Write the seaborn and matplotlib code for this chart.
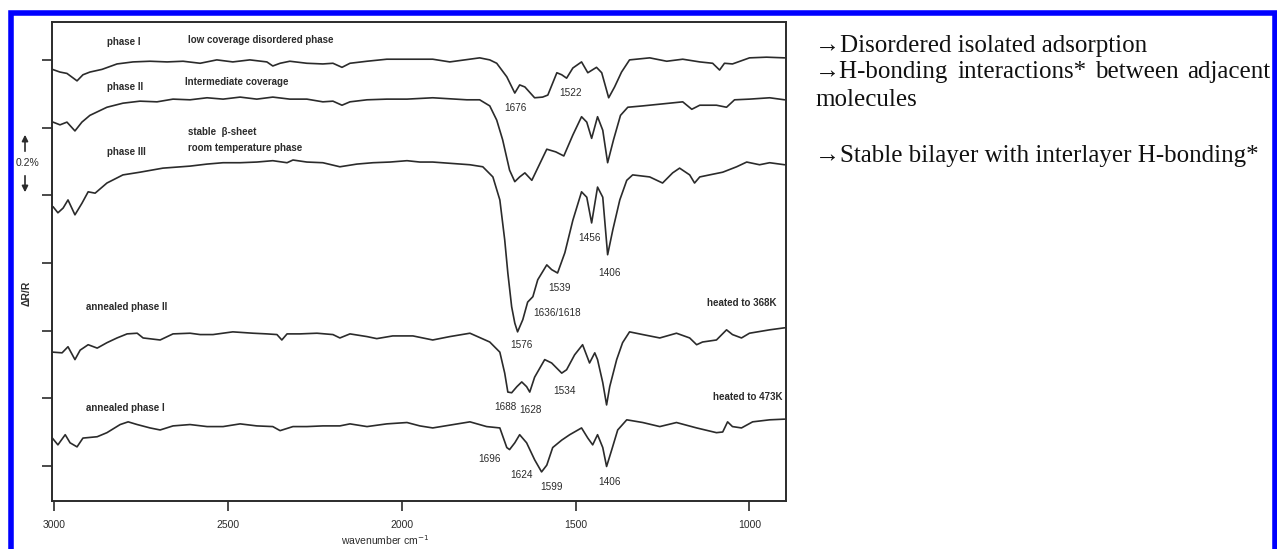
import matplotlib
matplotlib.use("Agg")
import matplotlib.pyplot as plt
import matplotlib.patches as mpatches
import seaborn as sns
import pandas as pd

# spectra: wavenumber (cm-1) and offset dR/R (tick spacing = 1)
wn_phase1 = [3005, 2983, 2963, 2934, 2917, 2897, 2862, 2819, 2773, 2724, 2675, 2629, 2580, 2532,
             2486, 2437, 2388, 2371, 2350, 2322, 2273, 2227, 2198, 2172, 2149, 2100, 2043, 1985,
             1911, 1862, 1776, 1747, 1727, 1698, 1675, 1661, 1646, 1618, 1595, 1580, 1554, 1540,
             1526, 1508, 1483, 1465, 1440, 1425, 1405, 1388, 1368, 1345, 1287, 1238, 1192, 1143,
             1106, 1086, 1072, 1049, 1000, 951, 899]
r_phase1 = [5.86, 5.82, 5.80, 5.69, 5.78, 5.82, 5.86, 5.94, 5.97, 5.98, 5.97, 5.98, 5.95, 6.00,
            5.97, 6.00, 5.97, 5.91, 5.95, 5.98, 5.95, 5.94, 5.95, 5.89, 5.95, 5.98, 6.01, 6.01,
            6.01, 5.97, 6.03, 6.00, 5.95, 5.75, 5.51, 5.63, 5.60, 5.44, 5.45, 5.48, 5.81, 5.78,
            5.73, 5.88, 5.97, 5.81, 5.89, 5.81, 5.44, 5.60, 5.82, 6.00, 6.03, 5.98, 6.01, 5.97,
            5.95, 5.85, 5.95, 5.94, 6.03, 6.04, 6.03]

wn_phase2 = [3003, 2983, 2963, 2940, 2920, 2897, 2848, 2802, 2753, 2704, 2658, 2609, 2560, 2514,
             2465, 2417, 2371, 2322, 2273, 2227, 2198, 2172, 2149, 2100, 2043, 1985, 1911, 1813,
             1776, 1747, 1727, 1710, 1690, 1675, 1661, 1646, 1626, 1612, 1583, 1557, 1534, 1508,
             1483, 1468, 1454, 1437, 1422, 1408, 1391, 1371, 1350, 1307, 1230, 1192, 1166, 1143,
             1095, 1066, 1043, 1000, 942, 899]
r_phase2 = [5.08, 5.04, 5.08, 4.95, 5.08, 5.18, 5.30, 5.36, 5.39, 5.38, 5.42, 5.41, 5.44, 5.42,
            5.45, 5.42, 5.45, 5.42, 5.42, 5.38, 5.39, 5.33, 5.38, 5.41, 5.42, 5.42, 5.44, 5.41,
            5.41, 5.32, 5.11, 4.82, 4.37, 4.20, 4.27, 4.33, 4.22, 4.37, 4.68, 4.64, 4.58, 4.89,
            5.16, 5.08, 4.84, 5.16, 4.96, 4.48, 4.82, 5.18, 5.30, 5.32, 5.36, 5.38, 5.27, 5.33,
            5.33, 5.30, 5.41, 5.42, 5.44, 5.41]

wn_phase3 = [3003, 2989, 2974, 2960, 2940, 2920, 2902, 2882, 2848, 2802, 2753, 2687, 2609, 2560,
             2514, 2465, 2417, 2371, 2330, 2313, 2273, 2227, 2178, 2129, 2083, 2034, 1985, 1948,
             1911, 1804, 1767, 1738, 1718, 1704, 1695, 1684, 1675, 1667, 1652, 1638, 1623, 1609,
             1583, 1569, 1552, 1531, 1508, 1483, 1468, 1454, 1437, 1422, 1408, 1393, 1373, 1353,
             1336, 1287, 1250, 1221, 1201, 1172, 1158, 1143, 1115, 1077, 1037, 1008, 971, 942, 899]
r_phase3 = [3.83, 3.74, 3.81, 3.93, 3.71, 3.88, 4.05, 4.03, 4.18, 4.30, 4.34, 4.40, 4.43, 4.46,
            4.48, 4.48, 4.49, 4.51, 4.48, 4.52, 4.49, 4.48, 4.42, 4.46, 4.48, 4.49, 4.51, 4.49,
            4.49, 4.45, 4.42, 4.27, 3.93, 3.34, 2.85, 2.35, 2.11, 1.98, 2.16, 2.42, 2.50, 2.75,
            2.97, 2.90, 2.85, 3.15, 3.63, 4.05, 3.97, 3.59, 4.12, 3.97, 3.12, 3.49, 3.93, 4.22,
            4.30, 4.27, 4.18, 4.33, 4.40, 4.30, 4.18, 4.27, 4.30, 4.34, 4.42, 4.49, 4.45, 4.48, 4.45]

wn_ann2 = [3003, 2977, 2960, 2940, 2925, 2902, 2876, 2848, 2819, 2790, 2761, 2744, 2695, 2658,
           2609, 2580, 2543, 2486, 2428, 2388, 2359, 2345, 2330, 2293, 2244, 2198, 2178, 2149,
           2100, 2072, 2026, 1968, 1911, 1862, 1804, 1747, 1718, 1704, 1695, 1684, 1669, 1655,
           1641, 1632, 1618, 1589, 1569, 1540, 1526, 1503, 1480, 1460, 1445, 1437, 1422, 1411,
           1402, 1382, 1365, 1345, 1307, 1258, 1210, 1172, 1152, 1135, 1095, 1066, 1049, 1023,
           1000, 942, 899]
r_ann2 = [1.68, 1.67, 1.76, 1.57, 1.71, 1.79, 1.74, 1.82, 1.89, 1.95, 1.96, 1.89, 1.86, 1.95,
          1.96, 1.94, 1.94, 1.98, 1.96, 1.95, 1.94, 1.86, 1.95, 1.95, 1.96, 1.94, 1.89, 1.95,
          1.91, 1.88, 1.92, 1.92, 1.86, 1.91, 1.96, 1.83, 1.68, 1.37, 1.09, 1.08, 1.17, 1.24,
          1.17, 1.09, 1.31, 1.57, 1.52, 1.37, 1.42, 1.64, 1.79, 1.52, 1.67, 1.57, 1.23, 0.90,
          1.17, 1.57, 1.82, 1.98, 1.94, 1.89, 1.96, 1.89, 1.79, 1.83, 1.86, 2.01, 1.94, 1.89,
          1.96, 2.01, 2.04]

wn_ann1 = [3005, 2989, 2968, 2954, 2934, 2917, 2876, 2848, 2810, 2787, 2761, 2724, 2695, 2658,
           2609, 2560, 2514, 2465, 2417, 2371, 2350, 2313, 2273, 2227, 2178, 2149, 2100, 2043,
           1985, 1948, 1911, 1804, 1756, 1718, 1698, 1690, 1675, 1661, 1641, 1618, 1598, 1583,
           1566, 1540, 1517, 1483, 1465, 1451, 1437, 1422, 1411, 1396, 1379, 1353, 1307, 1258,
           1210, 1152, 1095, 1077, 1063, 1049, 1023, 991, 942, 899]
r_ann1 = [0.41, 0.31, 0.46, 0.34, 0.28, 0.41, 0.43, 0.49, 0.61, 0.65, 0.61, 0.56, 0.53, 0.59,
          0.61, 0.58, 0.58, 0.62, 0.59, 0.58, 0.52, 0.58, 0.58, 0.59, 0.59, 0.62, 0.58, 0.62,
          0.64, 0.59, 0.56, 0.65, 0.58, 0.56, 0.27, 0.24, 0.34, 0.46, 0.34, 0.09, -0.09, 0.01,
          0.27, 0.38, 0.46, 0.56, 0.41, 0.31, 0.46, 0.27, -0.01, 0.24, 0.53, 0.68, 0.64, 0.58,
          0.64, 0.56, 0.49, 0.50, 0.65, 0.58, 0.56, 0.65, 0.68, 0.69]

# peak labels: text, wavenumber, offset
peak_text = ["1676", "1522", "1456", "1406", "1539", "1636/1618", "1576",
             "1688", "1628", "1534", "1696", "1624", "1599", "1406"]
peak_wn = [1672, 1514, 1460, 1402, 1546, 1552, 1655, 1701, 1629, 1531, 1747, 1655, 1569, 1402]
peak_r = [5.29, 5.51, 3.37, 2.85, 2.63, 2.26, 1.79, 0.87, 0.83, 1.11, 0.10, -0.13, -0.31, -0.24]

# trace captions: text, wavenumber of left edge, offset
caption_text = ["phase I", "low coverage disordered phase", "phase II", "Intermediate coverage",
                "stable  \u03b2-sheet", "room temperature phase", "phase III",
                "annealed phase II", "heated to 368K", "annealed phase I", "heated to 473K"]
caption_wn = [2848, 2615, 2848, 2624, 2615, 2615, 2848, 2908, 1123, 2908, 1106]
caption_r = [6.26, 6.29, 5.60, 5.67, 4.93, 4.70, 4.64, 2.35, 2.41, 0.86, 1.02]

xticks = [3000, 2500, 2000, 1500, 1000]

notes = ["\u2192Disordered isolated adsorption",
         "molecules",
         "\u2192Stable bilayer with interlayer H-bonding*"]
note_words = ["\u2192H-bonding", "interactions*", "between", "adjacent"]

sns.set_theme(style="white")
sans = ["Liberation Sans", "DejaVu Sans"]
serif = ["Liberation Serif", "DejaVu Serif"]
ink = "#2b2b2b"

W, H = 1277, 549
fig = plt.figure(figsize=(W / 100, H / 100), dpi=100)
ax = fig.add_axes([52 / W, 1 - 501 / H, (786 - 52) / W, (501 - 22) / H])

traces = [(wn_phase1, r_phase1), (wn_phase2, r_phase2), (wn_phase3, r_phase3),
          (wn_ann2, r_ann2), (wn_ann1, r_ann1)]
for wn, r in traces:
    df = pd.DataFrame({"wn": wn, "r": r})
    sns.lineplot(data=df, x="wn", y="r", ax=ax, color=ink, linewidth=1.2, sort=False)

ax.set_xlim(3006, 895)
ax.set_ylim(-0.52, 6.56)
ax.set_xticks(xticks)
ax.set_xticklabels([str(t) for t in xticks], family=sans, fontsize=7.5, color=ink)
ax.set_yticks(range(7))
ax.set_yticklabels([])
ax.tick_params(axis="both", direction="out", length=7, width=1.2, color=ink,
               bottom=True, left=True, pad=7)
ax.set_xlabel("")
ax.set_ylabel("")
for sp in ax.spines.values():
    sp.set_color(ink)
    sp.set_linewidth(1.4)

for t, x, y in zip(caption_text, caption_wn, caption_r):
    ax.text(x, y, t, family=sans, fontsize=7, fontweight="bold", color=ink,
            ha="left", va="center")
for t, x, y in zip(peak_text, peak_wn, peak_r):
    ax.text(x, y, t, family=sans, fontsize=7.2, color=ink, ha="center", va="center")

# axis annotations in figure pixels
fig.text(385 / W, 1 - 540 / H, "wavenumber cm$^{-1}$", family=sans, fontsize=7.5,
         color=ink, ha="center", va="center")
fig.text(27 / W, 1 - 293 / H, "\u0394R/R", family=sans, fontsize=7.5, fontweight="bold",
         color=ink, rotation=90, ha="center", va="center")
fig.text(27 / W, 1 - 163 / H, "0.2%", family=sans, fontsize=7.5, color=ink,
         ha="center", va="center")
ax.annotate("", xy=(25, H - 132), xytext=(25, H - 154), xycoords="figure pixels",
            textcoords="figure pixels",
            arrowprops=dict(arrowstyle="-|>", color=ink, lw=1.2, mutation_scale=9))
ax.annotate("", xy=(25, H - 195), xytext=(25, H - 173), xycoords="figure pixels",
            textcoords="figure pixels",
            arrowprops=dict(arrowstyle="-|>", color=ink, lw=1.2, mutation_scale=9))

# notes on the right
note_kw = dict(family=serif, fontsize=18, color="#111111", va="center")
fig.text(815 / W, 1 - 46 / H, notes[0], ha="left", **note_kw)
fig.text(815 / W, 1 - 100 / H, notes[1], ha="left", **note_kw)
fig.text(815 / W, 1 - 156 / H, notes[2], ha="left", **note_kw)

# justified second line, spread between 815 and 1270 px
renderer = fig.canvas.get_renderer()
words = [fig.text(0, 1 - 72 / H, w, ha="left", **note_kw) for w in note_words]
widths = [w.get_window_extent(renderer).width for w in words]
gap = (1270 - 815 - sum(widths)) / (len(words) - 1)
xp = 815
for w, wd in zip(words, widths):
    w.set_x(xp / W)
    xp += wd + gap

# blue frame round the slide
frame = mpatches.Rectangle((10.5 / W, -0.02), (1274.5 - 10.5) / W, 1.02 - 12.5 / H,
                           transform=fig.transFigure, fill=False, edgecolor="#0000ff",
                           linewidth=4, clip_on=False)
fig.patches.append(frame)

fig.savefig("out.png", dpi=100)
